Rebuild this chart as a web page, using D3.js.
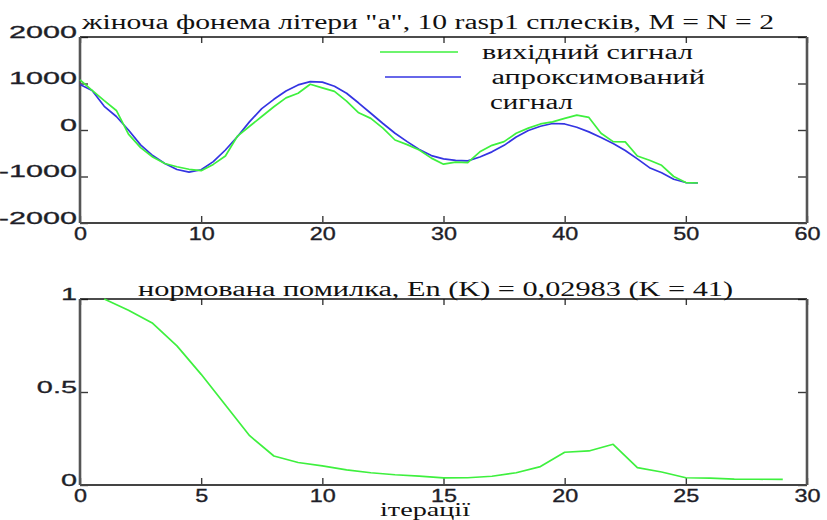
<!DOCTYPE html>
<html>
<head>
<meta charset="utf-8">
<script src="https://cdn.jsdelivr.net/npm/d3@7"></script>
<style>
  html, body { margin: 0; padding: 0; background: #fff; }
  svg { display: block; }
</style>
</head>
<body>
<svg id="chart" width="827" height="520"></svg>
<script>
// Top panel: source signal vs. approximation (samples 0..51)
const sampleIdx = d3.range(0, 52);
const sourceSignal = [
  1080, 850, 630, 420, -90, -380, -580, -720, -790, -845,
  -875, -740, -560, -130, 80, 290, 500, 690, 790, 985,
  905, 830, 620, 370, 250, 40, -215, -315, -430, -605,
  -735, -690, -700, -470, -330, -250, -70, 40, 130, 175,
  250, 320, 270, -70, -250, -255, -560, -650, -760, -1000,
  -1130, -1140
];
const approxSignal = [
  980, 850, 510, 290, 0, -320, -550, -720, -850, -905,
  -855, -680, -430, -140, 180, 460, 660, 840, 970, 1040,
  1030, 940, 790, 580, 360, 140, -70, -250, -420, -550,
  -620, -655, -665, -580, -470, -330, -150, -10, 80, 140,
  130, 60, -40, -160, -290, -440, -620, -810, -920, -1060,
  -1130, -1140
];

// Bottom panel: normalised error per iteration
const iterIdx = d3.range(1, 30);
const normError = [
  1.0, 0.94, 0.869, 0.748, 0.595, 0.43, 0.265, 0.156, 0.121, 0.103,
  0.081, 0.066, 0.055, 0.048, 0.038, 0.039, 0.047, 0.066, 0.099, 0.176,
  0.183, 0.219, 0.093, 0.07, 0.039, 0.037, 0.032, 0.031, 0.030
];

const topXTicks = [0, 10, 20, 30, 40, 50, 60];
const topYTicks = [-2000, -1000, 0, 1000, 2000];
const botXTicks = [0, 5, 10, 15, 20, 25, 30];
const botYTicks = [0, 0.5, 1];
const botYLabels = ["0", "0.5", "1"];

const topTitle = 'жіноча фонема літери "а", 10 rasp1 сплесків, M = N = 2';
const botTitle = "нормована помилка, En (K) = 0,02983 (K = 41)";
const legendNames = ["вихідний сигнал", " апроксимований", "сигнал"];
const xLabel = "ітерації";

const GREEN = "#3ef03e";
const BLUE = "#3434e2";
const INK = "#1e1e28";
const TICK_FONT = "'Liberation Sans', Arial, sans-serif";
const SERIF = "'Liberation Serif', 'Times New Roman', serif";

const svg = d3.select("#chart");

function panel(box, xDomain, yDomain, xTicks, yTicks, yFmt, sxY) {
  const x = d3.scaleLinear().domain(xDomain).range([box.left, box.right]);
  const y = d3.scaleLinear().domain(yDomain).range([box.bottom, box.top]);
  const g = svg.append("g");

  // inner tick marks on all four sides
  g.append("g").attr("transform", `translate(0,${box.bottom})`)
    .call(d3.axisBottom(x).tickValues(xTicks).tickSize(-7).tickFormat(""))
    .call(s => s.select(".domain").remove());
  g.append("g").attr("transform", `translate(0,${box.top})`)
    .call(d3.axisTop(x).tickValues(xTicks).tickSize(-6).tickFormat(""))
    .call(s => s.select(".domain").remove());
  g.append("g").attr("transform", `translate(${box.left},0)`)
    .call(d3.axisLeft(y).tickValues(yTicks).tickSize(-8).tickFormat(""))
    .call(s => s.select(".domain").remove());
  g.append("g").attr("transform", `translate(${box.right},0)`)
    .call(d3.axisRight(y).tickValues(yTicks).tickSize(-9).tickFormat(""))
    .call(s => s.select(".domain").remove());
  g.selectAll(".tick line").attr("stroke", "#3a3a3a").attr("stroke-width", 1.4);

  // tick labels (wide, heavy numerals)
  const sxX = 1.3;
  const xl = g.append("g").attr("transform", `translate(0,${box.bottom})`)
    .call(d3.axisBottom(x).tickValues(xTicks).tickSize(0).tickFormat(d => String(d)));
  xl.select(".domain").remove();
  xl.selectAll("text")
    .attr("y", 0).attr("dy", 0).attr("x", 0)
    .attr("transform", `translate(0,17) scale(${sxX},1)`)
    .attr("font-family", TICK_FONT).attr("font-size", 18)
    .attr("fill", INK).attr("stroke", INK).attr("stroke-width", 0.35);

  const yl = g.append("g").attr("transform", `translate(${box.left},0)`)
    .call(d3.axisLeft(y).tickValues(yTicks).tickSize(0).tickFormat(yFmt));
  yl.select(".domain").remove();
  yl.selectAll("text")
    .attr("x", 0).attr("dy", 0)
    .attr("transform", `translate(-3,0) scale(${sxY},1)`)
    .attr("font-family", TICK_FONT).attr("font-size", 17)
    .attr("fill", INK).attr("stroke", INK).attr("stroke-width", 0.3);

  // frame
  g.append("line").attr("x1", box.left).attr("x2", box.right)
    .attr("y1", box.top).attr("y2", box.top)
    .attr("stroke", "#111").attr("stroke-width", 1.3);
  g.append("line").attr("x1", box.left).attr("x2", box.right)
    .attr("y1", box.bottom).attr("y2", box.bottom)
    .attr("stroke", "#444").attr("stroke-width", 2);
  [box.left, box.right].forEach(px => {
    g.append("line").attr("x1", px).attr("x2", px)
      .attr("y1", box.top).attr("y2", box.bottom)
      .attr("stroke", "#555").attr("stroke-width", 2.6);
  });
  return { x, y, g };
}

// ---- top panel ----
const topPanel = panel({ left: 80, right: 807, top: 37, bottom: 223 },
  [0, 60], [-2000, 2000], topXTicks, topYTicks, d => String(d), 1.8);

const lineTop = d3.line().x((d, i) => topPanel.x(sampleIdx[i])).y(d => topPanel.y(d));
topPanel.g.append("path").datum(approxSignal).attr("d", lineTop)
  .attr("fill", "none").attr("stroke", BLUE).attr("stroke-width", 1.7)
  .attr("stroke-linejoin", "round");
topPanel.g.append("path").datum(sourceSignal).attr("d", lineTop)
  .attr("fill", "none").attr("stroke", GREEN).attr("stroke-width", 1.7)
  .attr("stroke-linejoin", "round");

svg.append("text").attr("x", 82).attr("y", 28.5)
  .attr("font-family", SERIF).attr("font-size", 20)
  .attr("textLength", 692).attr("lengthAdjust", "spacingAndGlyphs")
  .attr("fill", "#111").text(topTitle);

// legend
const leg = svg.append("g");
leg.append("line").attr("x1", 380).attr("x2", 458).attr("y1", 52).attr("y2", 52)
  .attr("stroke", GREEN).attr("stroke-width", 1.7);
leg.append("line").attr("x1", 385).attr("x2", 461).attr("y1", 77).attr("y2", 77)
  .attr("stroke", BLUE).attr("stroke-width", 1.5);
const legText = [
  { t: legendNames[0], x: 482, y: 59, w: 211 },
  { t: legendNames[1], x: 484, y: 84, w: 221 },
  { t: legendNames[2], x: 490, y: 109, w: 83 }
];
legText.forEach(d => {
  leg.append("text").attr("x", d.x).attr("y", d.y)
    .attr("font-family", SERIF).attr("font-size", 20)
    .attr("textLength", d.w).attr("lengthAdjust", "spacingAndGlyphs")
    .attr("xml:space", "preserve").style("white-space", "pre")
    .attr("fill", "#111").text(d.t);
});

// ---- bottom panel ----
const botPanel = panel({ left: 80, right: 807, top: 299, bottom: 485 },
  [0, 30], [0, 1], botXTicks, botYTicks, (d, i) => botYLabels[i], 1.7);

const lineBot = d3.line().x((d, i) => botPanel.x(iterIdx[i])).y(d => botPanel.y(d));
botPanel.g.append("path").datum(normError).attr("d", lineBot)
  .attr("fill", "none").attr("stroke", GREEN).attr("stroke-width", 1.7)
  .attr("stroke-linejoin", "round");

svg.append("text").attr("x", 138).attr("y", 296)
  .attr("font-family", SERIF).attr("font-size", 20)
  .attr("textLength", 595).attr("lengthAdjust", "spacingAndGlyphs")
  .attr("fill", "#111").text(botTitle);

svg.append("text").attr("x", 380).attr("y", 516)
  .attr("font-family", SERIF).attr("font-size", 19)
  .attr("textLength", 90).attr("lengthAdjust", "spacingAndGlyphs")
  .attr("fill", "#111").text(xLabel);
</script>
</body>
</html>
